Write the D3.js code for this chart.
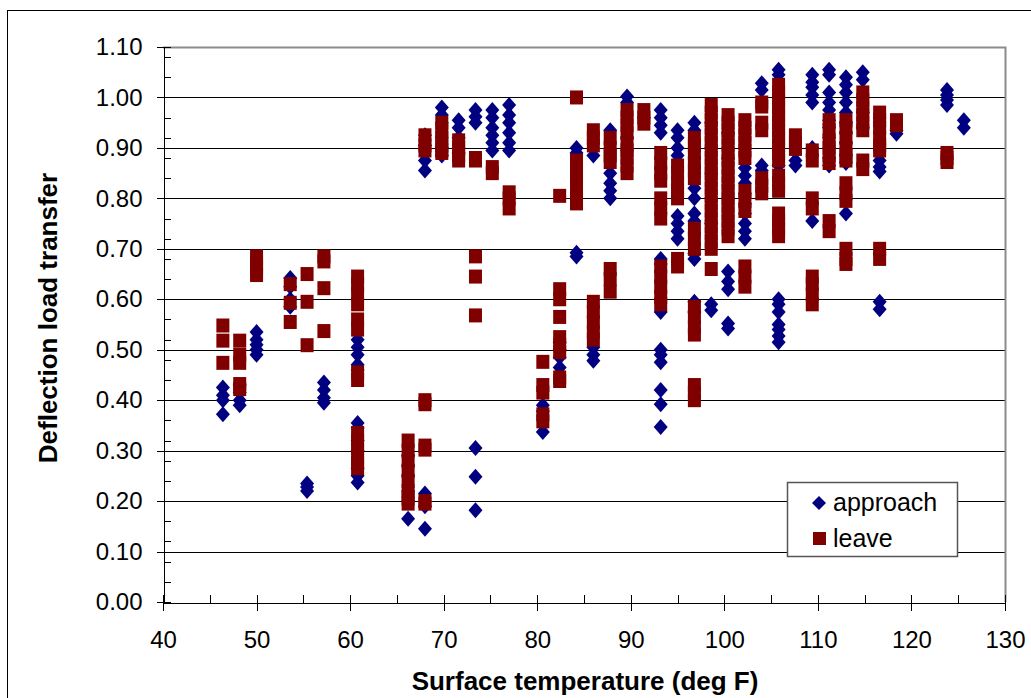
<!DOCTYPE html>
<html>
<head>
<meta charset="utf-8">
<script src="https://cdn.jsdelivr.net/npm/d3@7"></script>
<style>
  html, body { margin: 0; padding: 0; background: #fff; }
  svg { display: block; font-family: "Liberation Sans", Arial, sans-serif; }
</style>
</head>
<body>
<svg id="chart" width="1031" height="698"></svg>
<script>
// ---- data (temperature in deg F, deflection load transfer) ----
const xTicks = [40, 50, 60, 70, 80, 90, 100, 110, 120, 130];
const xMinorTicks = [45, 55, 65, 75, 85, 95, 105, 115, 125];
const yTicks = [0, 0.1, 0.2, 0.3, 0.4, 0.5, 0.6, 0.7, 0.8, 0.9, 1.0, 1.1];
const yMinorTicks = [0, 0.04, 0.08, 0.12, 0.16, 0.2, 0.24, 0.28, 0.32, 0.36, 0.4, 0.44, 0.48, 0.52, 0.56, 0.6, 0.64, 0.68, 0.72, 0.76, 0.8, 0.84, 0.88, 0.92, 0.96, 1.0, 1.04, 1.08];
const seriesNames = ["approach", "leave"];

const approach = [
  [46.4,0.425],[46.4,0.41],[46.4,0.40],[46.4,0.372],
  [48.2,0.43],[48.2,0.415],[48.2,0.40],[48.2,0.39],
  [50,0.535],[50,0.52],[50,0.51],[50,0.50],[50,0.49],
  [53.6,0.642],[53.6,0.625],[53.6,0.60],[53.6,0.585],
  [55.4,0.235],[55.4,0.228],[55.4,0.22],
  [57.2,0.435],[57.2,0.42],[57.2,0.405],[57.2,0.395],
  [60.8,0.52],[60.8,0.505],[60.8,0.49],[60.8,0.47],[60.8,0.46],[60.8,0.355],[60.8,0.345],[60.8,0.32],[60.8,0.30],[60.8,0.265],[60.8,0.25],[60.8,0.237],
  [66.2,0.29],[66.2,0.27],[66.2,0.25],[66.2,0.22],[66.2,0.20],[66.2,0.165],
  [68,0.925],[68,0.905],[68,0.875],[68,0.855],[68,0.215],[68,0.19],[68,0.145],
  [69.8,0.98],[69.8,0.965],[69.8,0.95],[69.8,0.92],[69.8,0.90],[69.8,0.885],
  [71.6,0.955],[71.6,0.94],[71.6,0.92],[71.6,0.90],[71.6,0.89],
  [73.4,0.975],[73.4,0.962],[73.4,0.95],[73.4,0.305],[73.4,0.248],[73.4,0.182],
  [75.2,0.975],[75.2,0.96],[75.2,0.94],[75.2,0.925],[75.2,0.91],[75.2,0.895],
  [77,0.985],[77,0.965],[77,0.95],[77,0.93],[77,0.91],[77,0.895],
  [80.6,0.39],[80.6,0.378],[80.6,0.337],
  [82.4,0.515],[82.4,0.50],[82.4,0.485],[82.4,0.465],
  [84.2,0.90],[84.2,0.89],[84.2,0.692],[84.2,0.685],
  [86,0.885],[86,0.505],[86,0.49],[86,0.478],
  [87.8,0.935],[87.8,0.85],[87.8,0.83],[87.8,0.815],[87.8,0.80],
  [89.6,1.002],[89.6,0.99],[89.6,0.92],[89.6,0.895],
  [91.4,0.96],
  [93.2,0.975],[93.2,0.96],[93.2,0.945],[93.2,0.93],[93.2,0.68],[93.2,0.67],[93.2,0.575],[93.2,0.50],[93.2,0.49],[93.2,0.475],[93.2,0.42],[93.2,0.392],[93.2,0.347],
  [95,0.935],[95,0.92],[95,0.90],[95,0.885],[95,0.765],[95,0.75],[95,0.735],[95,0.72],
  [96.8,0.95],[96.8,0.935],[96.8,0.82],[96.8,0.80],[96.8,0.77],[96.8,0.755],[96.8,0.69],[96.8,0.68],[96.8,0.595],[96.8,0.575],
  [98.6,0.95],[98.6,0.90],[98.6,0.85],[98.6,0.80],[98.6,0.75],[98.6,0.59],[98.6,0.578],
  [100.4,0.93],[100.4,0.88],[100.4,0.80],[100.4,0.655],[100.4,0.635],[100.4,0.62],[100.4,0.552],[100.4,0.542],
  [102.2,0.86],[102.2,0.845],[102.2,0.83],[102.2,0.81],[102.2,0.79],[102.2,0.77],[102.2,0.75],[102.2,0.735],[102.2,0.72],
  [104,1.028],[104,1.015],[104,0.865],[104,0.855],
  [105.8,1.055],[105.8,1.045],[105.8,0.865],[105.8,0.60],[105.8,0.59],[105.8,0.575],[105.8,0.55],[105.8,0.54],[105.8,0.527],[105.8,0.515],
  [107.6,0.875],[107.6,0.865],
  [109.4,1.045],[109.4,1.03],[109.4,1.02],[109.4,1.005],[109.4,0.99],[109.4,0.90],[109.4,0.755],
  [111.2,1.055],[111.2,1.045],[111.2,1.01],[111.2,0.99],[111.2,0.975],[111.2,0.955],[111.2,0.94],[111.2,0.92],[111.2,0.90],[111.2,0.88],[111.2,0.865],
  [113,1.04],[113,1.025],[113,1.01],[113,0.99],[113,0.97],[113,0.95],[113,0.93],[113,0.91],[113,0.885],[113,0.87],[113,0.77],
  [114.8,1.05],[114.8,1.035],[114.8,1.0],[114.8,0.97],[114.8,0.94],
  [116.6,0.875],[116.6,0.862],[116.6,0.853],[116.6,0.595],[116.6,0.58],
  [118.4,0.935],[118.4,0.928],
  [123.8,1.015],[123.8,1.005],[123.8,0.995],[123.8,0.985],
  [125.6,0.955],[125.6,0.94]
];

const leave = [
  [46.4,0.548],[46.4,0.518],[46.4,0.474],
  [48.2,0.518],[48.2,0.49],[48.2,0.474],[48.2,0.432],[48.2,0.422],
  [50,0.685],[50,0.67],[50,0.66],[50,0.648],
  [53.6,0.63],[53.6,0.593],[53.6,0.555],
  [55.4,0.65],[55.4,0.595],[55.4,0.509],
  [57.2,0.685],[57.2,0.675],[57.2,0.622],[57.2,0.537],
  [60.8,0.645],[60.8,0.63],[60.8,0.61],[60.8,0.59],[60.8,0.56],[60.8,0.54],[60.8,0.455],[60.8,0.44],[60.8,0.335],[60.8,0.32],[60.8,0.305],[60.8,0.29],[60.8,0.275],[60.8,0.265],
  [66.2,0.32],[66.2,0.30],[66.2,0.28],[66.2,0.26],[66.2,0.24],[66.2,0.22],[66.2,0.205],[66.2,0.195],
  [68,0.925],[68,0.905],[68,0.895],[68,0.40],[68,0.392],[68,0.31],[68,0.302],[68,0.20],[68,0.195],
  [69.8,0.95],[69.8,0.935],[69.8,0.92],[69.8,0.905],[69.8,0.895],[69.8,0.89],
  [71.6,0.915],[71.6,0.90],[71.6,0.885],[71.6,0.875],
  [73.4,0.88],[73.4,0.875],[73.4,0.685],[73.4,0.645],[73.4,0.568],
  [75.2,0.862],[75.2,0.85],
  [77,0.812],[77,0.80],[77,0.78],
  [80.6,0.476],[80.6,0.43],[80.6,0.415],[80.6,0.372],[80.6,0.358],
  [82.4,0.805],[82.4,0.62],[82.4,0.60],[82.4,0.565],[82.4,0.525],[82.4,0.51],[82.4,0.495],[82.4,0.445],[82.4,0.438],
  [84.2,1.0],[84.2,0.875],[84.2,0.855],[84.2,0.84],[84.2,0.82],[84.2,0.80],[84.2,0.79],
  [86,0.935],[86,0.92],[86,0.905],[86,0.595],[86,0.575],[86,0.555],[86,0.535],[86,0.52],
  [87.8,0.92],[87.8,0.90],[87.8,0.885],[87.8,0.872],[87.8,0.66],[87.8,0.64],[87.8,0.615],
  [89.6,0.975],[89.6,0.96],[89.6,0.945],[89.6,0.93],[89.6,0.91],[89.6,0.895],[89.6,0.88],[89.6,0.865],[89.6,0.85],
  [91.4,0.975],[91.4,0.96],[91.4,0.948],
  [93.2,0.89],[93.2,0.87],[93.2,0.85],[93.2,0.835],[93.2,0.80],[93.2,0.78],[93.2,0.76],[93.2,0.665],[93.2,0.645],[93.2,0.625],[93.2,0.605],[93.2,0.59],
  [95,0.865],[95,0.85],[95,0.83],[95,0.815],[95,0.80],[95,0.68],[95,0.665],
  [96.8,0.92],[96.8,0.905],[96.8,0.89],[96.8,0.87],[96.8,0.855],[96.8,0.84],[96.8,0.74],[96.8,0.72],[96.8,0.70],[96.8,0.585],[96.8,0.565],[96.8,0.545],[96.8,0.53],[96.8,0.43],[96.8,0.415],[96.8,0.40],
  [98.6,0.985],[98.6,0.97],[98.6,0.955],[98.6,0.94],[98.6,0.925],[98.6,0.91],[98.6,0.895],[98.6,0.88],[98.6,0.865],[98.6,0.85],[98.6,0.835],[98.6,0.82],[98.6,0.805],[98.6,0.79],[98.6,0.775],[98.6,0.76],[98.6,0.745],[98.6,0.73],[98.6,0.715],[98.6,0.70],[98.6,0.66],
  [100.4,0.965],[100.4,0.95],[100.4,0.935],[100.4,0.92],[100.4,0.905],[100.4,0.89],[100.4,0.875],[100.4,0.86],[100.4,0.845],[100.4,0.83],[100.4,0.815],[100.4,0.80],[100.4,0.785],[100.4,0.77],[100.4,0.755],[100.4,0.74],[100.4,0.725],
  [102.2,0.955],[102.2,0.94],[102.2,0.925],[102.2,0.91],[102.2,0.895],[102.2,0.88],[102.2,0.815],[102.2,0.795],[102.2,0.775],[102.2,0.665],[102.2,0.645],[102.2,0.625],
  [104,0.99],[104,0.982],[104,0.95],[104,0.935],[104,0.84],[104,0.825],[104,0.81],
  [105.8,1.025],[105.8,1.01],[105.8,0.995],[105.8,0.98],[105.8,0.965],[105.8,0.95],[105.8,0.935],[105.8,0.92],[105.8,0.905],[105.8,0.89],[105.8,0.875],[105.8,0.845],[105.8,0.83],[105.8,0.815],[105.8,0.77],[105.8,0.755],[105.8,0.74],[105.8,0.725],
  [107.6,0.925],[107.6,0.91],[107.6,0.898],
  [109.4,0.895],[109.4,0.875],[109.4,0.80],[109.4,0.78],[109.4,0.645],[109.4,0.63],[109.4,0.61],[109.4,0.59],
  [111.2,0.955],[111.2,0.935],[111.2,0.915],[111.2,0.90],[111.2,0.885],[111.2,0.87],[111.2,0.755],[111.2,0.735],
  [113,0.955],[113,0.94],[113,0.92],[113,0.90],[113,0.885],[113,0.875],[113,0.83],[113,0.81],[113,0.795],[113,0.70],[113,0.68],[113,0.67],
  [114.8,1.01],[114.8,0.995],[114.8,0.98],[114.8,0.965],[114.8,0.95],[114.8,0.935],[114.8,0.875],[114.8,0.858],
  [116.6,0.97],[116.6,0.955],[116.6,0.94],[116.6,0.92],[116.6,0.905],[116.6,0.895],[116.6,0.70],[116.6,0.68],
  [118.4,0.955],[118.4,0.945],
  [123.8,0.89],[123.8,0.88],[123.8,0.872]
];

// ---- drawing ----
const svg = d3.select("#chart");
const W = 1031, H = 698;
const plot = { left: 163, right: 1005, top: 47, bottom: 602 };
const colA = "#000080", colL = "#800000";

const x = d3.scaleLinear().domain([40, 130]).range([plot.left, plot.right]);
const y = d3.scaleLinear().domain([0, 1.1]).range([plot.bottom, plot.top]);

svg.append("rect").attr("width", W).attr("height", H).attr("fill", "#fff");
// outer chart border
svg.append("rect").attr("x", 7.5).attr("y", 10.5).attr("width", 1100).attr("height", 800)
  .attr("fill", "none").attr("stroke", "#000").attr("stroke-width", 1);

// gridlines
svg.append("g").selectAll("line").data(yTicks.slice(1)).join("line")
  .attr("x1", plot.left).attr("x2", plot.right)
  .attr("y1", d => Math.round(y(d)) + 0.5).attr("y2", d => Math.round(y(d)) + 0.5)
  .attr("stroke", "#000").attr("stroke-width", 1);

// plot-area border (top & right, gray)
svg.append("path")
  .attr("d", `M${plot.left},${plot.top + 0.5}H${plot.right + 0.5}V${plot.bottom}`)
  .attr("fill", "none").attr("stroke", "#8c8c8c").attr("stroke-width", 2);

// points
const diamond = "M0,-8L7,0L0,8L-7,0Z";
svg.append("g").selectAll("path").data(approach).join("path")
  .attr("d", diamond)
  .attr("transform", d => `translate(${x(d[0])},${y(d[1])})`)
  .attr("fill", colA);
svg.append("g").selectAll("rect").data(leave).join("rect")
  .attr("x", d => x(d[0]) - 6.5).attr("y", d => y(d[1]) - 7)
  .attr("width", 13).attr("height", 14)
  .attr("fill", colL);

// axes
const fmtY = d3.format(".2f");
const yAxis = svg.append("g").attr("transform", `translate(${plot.left + 0.5},0)`)
  .call(d3.axisLeft(y).tickValues(yTicks).tickFormat(fmtY).tickSize(7).tickPadding(14));
svg.append("g").attr("transform", `translate(${plot.left + 0.5},0)`)
  .call(d3.axisRight(y).tickValues(yMinorTicks).tickFormat("").tickSize(7).tickSizeOuter(0))
  .select(".domain").remove();
svg.append("g").attr("transform", `translate(${plot.left + 0.5},0)`)
  .call(d3.axisRight(y).tickValues(yTicks).tickFormat("").tickSize(7).tickSizeOuter(0))
  .select(".domain").remove();

const xAxis = svg.append("g").attr("transform", `translate(0,${plot.bottom + 0.5})`)
  .call(d3.axisBottom(x).tickValues(xTicks).tickFormat(d3.format("d")).tickSize(8).tickPadding(20));
svg.append("g").attr("transform", `translate(0,${plot.bottom + 0.5})`)
  .call(d3.axisTop(x).tickValues(xMinorTicks.concat(xTicks)).tickFormat("").tickSize(8).tickSizeOuter(0))
  .select(".domain").remove();

svg.selectAll(".tick text").attr("font-size", 24).attr("fill", "#000")
  .attr("font-family", "'Liberation Sans', Arial, sans-serif");
svg.selectAll(".domain, .tick line").attr("stroke", "#000").attr("shape-rendering", "crispEdges");

// axis titles
svg.append("text").attr("x", (plot.left + plot.right) / 2 + 1).attr("y", 690)
  .attr("text-anchor", "middle").attr("font-size", 26).attr("font-weight", "bold")
  .text("Surface temperature (deg F)");
svg.append("text").attr("transform", `translate(57,${318}) rotate(-90)`)
  .attr("text-anchor", "middle").attr("font-size", 26).attr("font-weight", "bold")
  .text("Deflection load transfer");

// legend
const lg = svg.append("g");
lg.append("rect").attr("x", 787.5).attr("y", 482.5).attr("width", 170).attr("height", 74)
  .attr("fill", "#fff").attr("stroke", "#555").attr("stroke-width", 1.5);
lg.append("path").attr("d", "M0,-7L7,0L0,7L-7,0Z").attr("transform", "translate(819,503)").attr("fill", colA);
lg.append("rect").attr("x", 813).attr("y", 532).attr("width", 13).attr("height", 13).attr("fill", colL);
lg.append("text").attr("x", 833).attr("y", 511).attr("font-size", 25).text(seriesNames[0]);
lg.append("text").attr("x", 833).attr("y", 547).attr("font-size", 25).text(seriesNames[1]);
</script>
</body>
</html>
